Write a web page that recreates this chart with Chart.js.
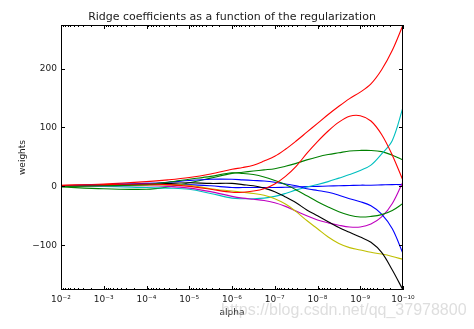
<!DOCTYPE html>
<html><head><meta charset="utf-8">
<script src="https://cdn.jsdelivr.net/npm/chart.js@4.4.1/dist/chart.umd.min.js"></script>
<style>html,body{margin:0;padding:0;background:#fff}#wrap{width:474px;height:329px}</style>
</head><body><div id="wrap"><canvas id="c" width="474" height="329"></canvas></div>
<script>
// alpha = 10^-exp
const alphaExp = [2, 3, 4, 4.5, 5, 5.5, 6, 6.25, 6.5, 6.75, 7, 7.25, 7.5, 7.75, 8, 8.25, 8.5, 8.75, 9, 9.25, 9.5, 9.75, 10];

const coefBlue1   = [1, 2, 3, 3, 3, 1, -2, -2, -2, -2, -2, -1.5, -1, -0.5, 0, 0.5, 1, 1.5, 2, 2, 2.5, 3, 3];
const coefGreen1  = [-1, -4, -5, -1, 6, 14, 22, 24, 26, 28, 30, 34, 39, 45, 50, 54, 57, 60, 61, 61, 59, 53, 45];
const coefRed1    = [2, 4, 8, 11, 15, 21, 29, 32, 36, 43, 51, 63, 77, 92, 107, 122, 136, 149, 160, 174, 198, 231, 274];
const coefCyan    = [0.5, 0, -2, -3, -5, -12, -20, -21, -21, -20, -17, -12, -6, -1, 3, 8, 14, 20, 27, 36, 55, 78, 134];
const coefMagenta = [0.5, 1, 1, 0, -3, -9, -17, -20, -22, -24, -28, -34, -42, -50, -57, -62, -66, -69, -69, -64, -52, -29, 8];
const coefYellow  = [1, 1.5, 2, 2.5, 2, -4, -8, -10, -12, -15, -21, -30, -43, -58, -72, -86, -97, -104, -108, -112, -115, -119, -124];
const coefBlack   = [1, 2, 4, 5, 6, 5, 5, 3, 1, -3, -9, -18, -28, -40, -50, -60, -70, -78, -86, -95, -112, -142, -176];
const coefBlue2   = [1, 3, 5, 7, 10, 12, 12, 11, 10, 9, 7, 4, 1, -4, -7, -10, -15, -21, -26, -33, -47, -72, -114];
const coefGreen2  = [0, 1, 3, 7, 12, 17, 23, 22, 20, 16, 10, 3, -6, -16, -26, -35, -43, -49, -52, -51, -48, -41, -29];
const coefRed2    = [1.5, 3, 4, 3, 0, -5, -10, -10, -8, -4, 4, 17, 34, 56, 76, 94, 109, 119, 120, 111, 88, 53, 10];

const xTickValues = [1e-2, 1e-3, 1e-4, 1e-5, 1e-6, 1e-7, 1e-8, 1e-9, 1e-10];
const xTickLabels = ['10⁻²', '10⁻³', '10⁻⁴', '10⁻⁵', '10⁻⁶', '10⁻⁷', '10⁻⁸', '10⁻⁹', '10⁻¹⁰'];
const yTickValues = [-100, 0, 100, 200];
const yTickLabels = ['−100', '0', '100', '200'];

const seriesList = [
  {data: coefBlue1, color: '#0000ff'},
  {data: coefGreen1, color: '#008000'},
  {data: coefRed1, color: '#ff0000'},
  {data: coefCyan, color: '#00bfbf'},
  {data: coefMagenta, color: '#bf00bf'},
  {data: coefYellow, color: '#bfbf00'},
  {data: coefBlack, color: '#000000'},
  {data: coefBlue2, color: '#0000ff'},
  {data: coefGreen2, color: '#008000'},
  {data: coefRed2, color: '#ff0000'}
];

const alphas = alphaExp.map(e => Math.pow(10, -e));

const datasets = seriesList.map((s, i) => ({
  data: s.data.map((v, j) => ({x: alphas[j], y: v})),
  borderColor: s.color,
  borderWidth: 1.1,
  pointRadius: 0,
  fill: false,
  tension: 0.35,
  order: seriesList.length - i
}));

const FONT = 'DejaVu Sans';

const framePlugin = {
  id: 'frame',
  afterDatasetsDraw(chart) {
    const {ctx, chartArea: a, scales: {x, y}} = chart;
    ctx.save();
    ctx.strokeStyle = '#000';
    ctx.lineWidth = 1;
    ctx.beginPath();
    xTickValues.forEach(v => {
      const px = Math.round(x.getPixelForValue(v)) + 0.5;
      ctx.moveTo(px, a.bottom); ctx.lineTo(px, a.bottom - 4);
      ctx.moveTo(px, a.top); ctx.lineTo(px, a.top + 4);
    });
    for (let k = 3; k <= 10; k++) {
      for (let m = 2; m <= 9; m++) {
        const v = m * Math.pow(10, -k);
        const px = Math.round(x.getPixelForValue(v)) + 0.5;
        ctx.moveTo(px, a.bottom); ctx.lineTo(px, a.bottom - 2);
        ctx.moveTo(px, a.top); ctx.lineTo(px, a.top + 2);
      }
    }
    yTickValues.forEach(v => {
      const py = Math.round(y.getPixelForValue(v)) + 0.5;
      ctx.moveTo(a.left, py); ctx.lineTo(a.left + 4, py);
      ctx.moveTo(a.right, py); ctx.lineTo(a.right - 4, py);
    });
    ctx.stroke();
    ctx.strokeRect(Math.round(a.left) + 0.5, Math.round(a.top) + 0.5, Math.round(a.right) - Math.round(a.left) - 1, Math.round(a.bottom) - Math.round(a.top) - 1);
    ctx.restore();
  },
  afterDraw(chart) {
    const ctx = chart.ctx;
    ctx.save();
    const txt = 'https://blog.csdn.net/qq_37978800';
    ctx.font = '17px "Liberation Sans"';
    const w = ctx.measureText(txt).width;
    const size = 17 * 245 / w;
    ctx.font = size.toFixed(1) + 'px "Liberation Sans"';
    ctx.fillStyle = 'rgba(195,195,195,0.55)';
    ctx.textBaseline = 'middle';
    ctx.textAlign = 'left';
    ctx.fillText(txt, 221, 311);
    ctx.restore();
  }
};

new Chart(document.getElementById('c'), {
  type: 'line',
  data: {datasets},
  plugins: [framePlugin],
  options: {
    responsive: false,
    animation: false,
    devicePixelRatio: 1,
    layout: {padding: {left: 0, right: 71, top: 0, bottom: 0}},
    plugins: {
      legend: {display: false},
      tooltip: {enabled: false},
      title: {
        display: true,
        fullSize: false,
        text: 'Ridge coefficients as a function of the regularization',
        color: '#1a1a1a',
        font: {family: FONT, size: 11, weight: 'normal'},
        padding: {top: 10.4, bottom: 1.4}
      }
    },
    scales: {
      x: {
        type: 'logarithmic',
        reverse: true,
        min: 1e-10,
        max: 1e-2,
        grid: {display: false, drawTicks: false},
        border: {display: false},
        afterBuildTicks: s => { s.ticks = xTickValues.map(v => ({value: v})); },
        afterFit: s => { s.height = 39; },
        ticks: {
          autoSkip: false,
          maxRotation: 0,
          padding: 4,
          color: '#1a1a1a',
          font: {family: FONT, size: 9},
          callback: (v, i) => xTickLabels[i]
        },
        title: {display: true, text: 'alpha', color: '#1a1a1a', font: {family: FONT, size: 9}, padding: {top: 0, bottom: 10.6}}
      },
      y: {
        type: 'linear',
        min: -176,
        max: 274,
        grid: {display: false, drawTicks: false},
        border: {display: false},
        afterBuildTicks: s => { s.ticks = yTickValues.map(v => ({value: v})); },
        afterFit: s => { s.width = 61; },
        ticks: {
          padding: 4,
          color: '#1a1a1a',
          font: {family: FONT, size: 9},
          callback: (v, i) => yTickLabels[i]
        },
        title: {display: true, text: 'weights', color: '#1a1a1a', font: {family: FONT, size: 9}, padding: {top: 17.6, bottom: 0}}
      }
    }
  }
});
</script></body></html>
